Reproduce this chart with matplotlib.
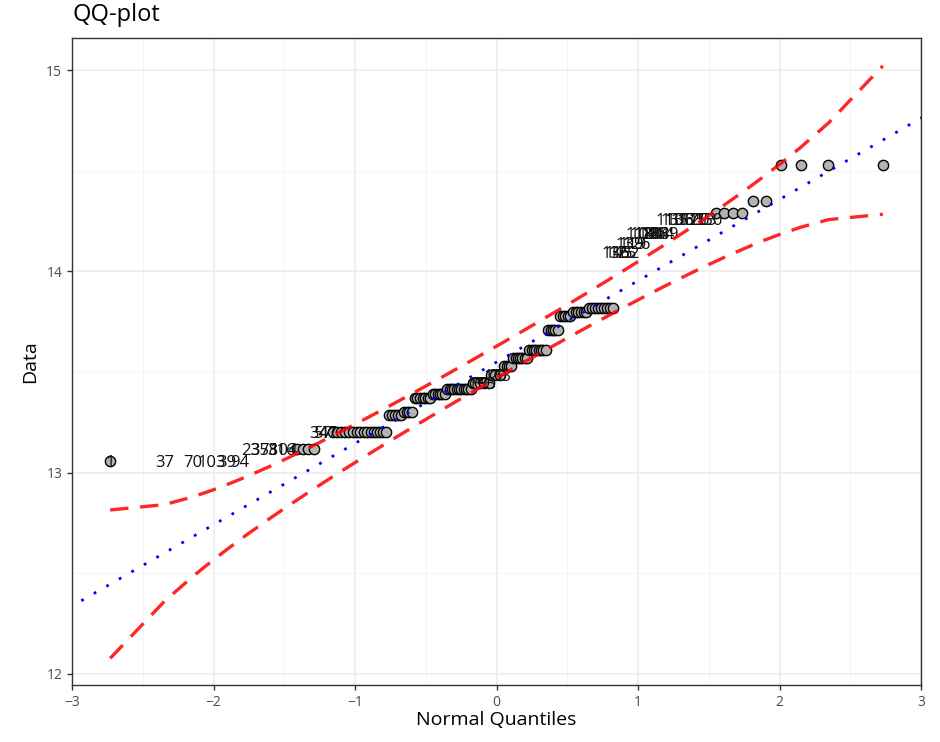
import matplotlib
matplotlib.use("Agg")
import matplotlib.pyplot as plt
from statistics import NormalDist

plt.rcParams['font.family'] = ['Open Sans', 'DejaVu Sans']

# sample values (sorted) as tied levels and how many points sit on each level
levels = [13.06, 13.115, 13.20, 13.285, 13.30, 13.373, 13.39, 13.413,
          13.445, 13.483, 13.532, 13.567, 13.607, 13.71, 13.78, 13.80,
          13.816, 14.095, 14.14, 14.19, 14.26, 14.29, 14.35, 14.53]
counts = [6, 10, 19, 5, 4, 7, 6, 11,
          8, 6, 4, 7, 8, 5, 5, 6,
          9, 4, 3, 7, 8, 4, 2, 4]

# identified points: rank in sorted sample -> id text
label_ranks = [1, 2, 3, 4, 5, 6,
               7, 8, 9, 10, 11, 12,
               17, 18, 19,
               71, 73, 75, 78, 80, 82,
               127, 128, 129, 130,
               131, 132, 133,
               134, 135, 136, 137, 138, 139, 140,
               141, 142, 143, 144, 145, 146, 147, 148]
label_text = ["1", "37", "70", "103", "39", "94",
              "23", "35", "78", "31", "104", "6",
              "34", "57", "47",
              "15", "59", "93", "13", "29", "53",
              "136", "145", "125", "152",
              "139", "119", "126",
              "118", "108", "128", "146", "138", "114", "149",
              "113", "131", "106", "157", "133", "120", "153", "150"]

# reference line
ref_slope = 0.404
ref_intercept = 13.549
conf = 0.95

sample = []
for v, c in zip(levels, counts):
    sample += [v] * c
n = len(sample)
nd = NormalDist()
probs = [(i + 0.5) / n for i in range(n)]
theo = [nd.inv_cdf(p) for p in probs]

# pointwise normal confidence band around the reference line
zc = nd.inv_cdf(1 - (1 - conf) / 2)
upper, lower = [], []
for z, p in zip(theo, probs):
    se = ref_slope / nd.pdf(z) * (p * (1 - p) / n) ** 0.5
    fit = ref_intercept + ref_slope * z
    upper.append(fit + zc * se)
    lower.append(fit - zc * se)

fig = plt.figure(figsize=(9.4, 7.42), dpi=100)
ax = fig.add_axes([72 / 940, 1 - 685 / 742, (921 - 72) / 940, (685 - 38) / 742])

lab = dict(zip(label_ranks, label_text))
px = [theo[i] for i in range(n) if (i + 1) not in lab or i == 0]
py = [sample[i] for i in range(n) if (i + 1) not in lab or i == 0]
ax.scatter(px, py, s=55, facecolor='#b3b3b3', edgecolor='black',
           linewidth=1.0, zorder=3)
for r, t in lab.items():
    ax.text(theo[r - 1], sample[r - 1], t, ha='center', va='center_baseline',
            fontsize=12, color='#111111', zorder=4)

xs = [-3.2, 3.2]
ax.plot(xs, [ref_intercept + ref_slope * x for x in xs], color='blue',
        lw=2.0, linestyle=(0, (1, 4.2)), zorder=5)
ax.plot(theo, upper, color='red', alpha=0.85, lw=2.4,
        linestyle=(0, (5.5, 3.5)), zorder=6)
ax.plot(theo, lower, color='red', alpha=0.85, lw=2.4,
        linestyle=(0, (5.5, 3.5)), zorder=6)

ax.set_xlim(-3, 3)
ax.set_ylim(11.945, 15.159)
ax.set_xticks([-3, -2, -1, 0, 1, 2, 3])
ax.set_yticks([12, 13, 14, 15])
ax.set_xticks([-2.5, -1.5, -0.5, 0.5, 1.5, 2.5], minor=True)
ax.set_yticks([12.5, 13.5, 14.5], minor=True)
ax.grid(which='major', color='#ebebeb', lw=1.1, zorder=0)
ax.grid(which='minor', color='#f2f2f2', lw=0.6, zorder=0)
ax.set_axisbelow(True)
for s in ax.spines.values():
    s.set_color('#333333')
    s.set_linewidth(1.0)
ax.tick_params(which='major', length=3.5, width=1, color='#333333',
               labelsize=10, labelcolor='#4d4d4d')
ax.tick_params(which='minor', length=0)

ax.set_xlabel('Normal Quantiles', fontsize=14, labelpad=1)
ax.set_ylabel('Data', fontsize=14, labelpad=5)
ax.set_title('QQ-plot', loc='left', fontsize=17, pad=12)

fig.savefig('out.png', dpi=100)
